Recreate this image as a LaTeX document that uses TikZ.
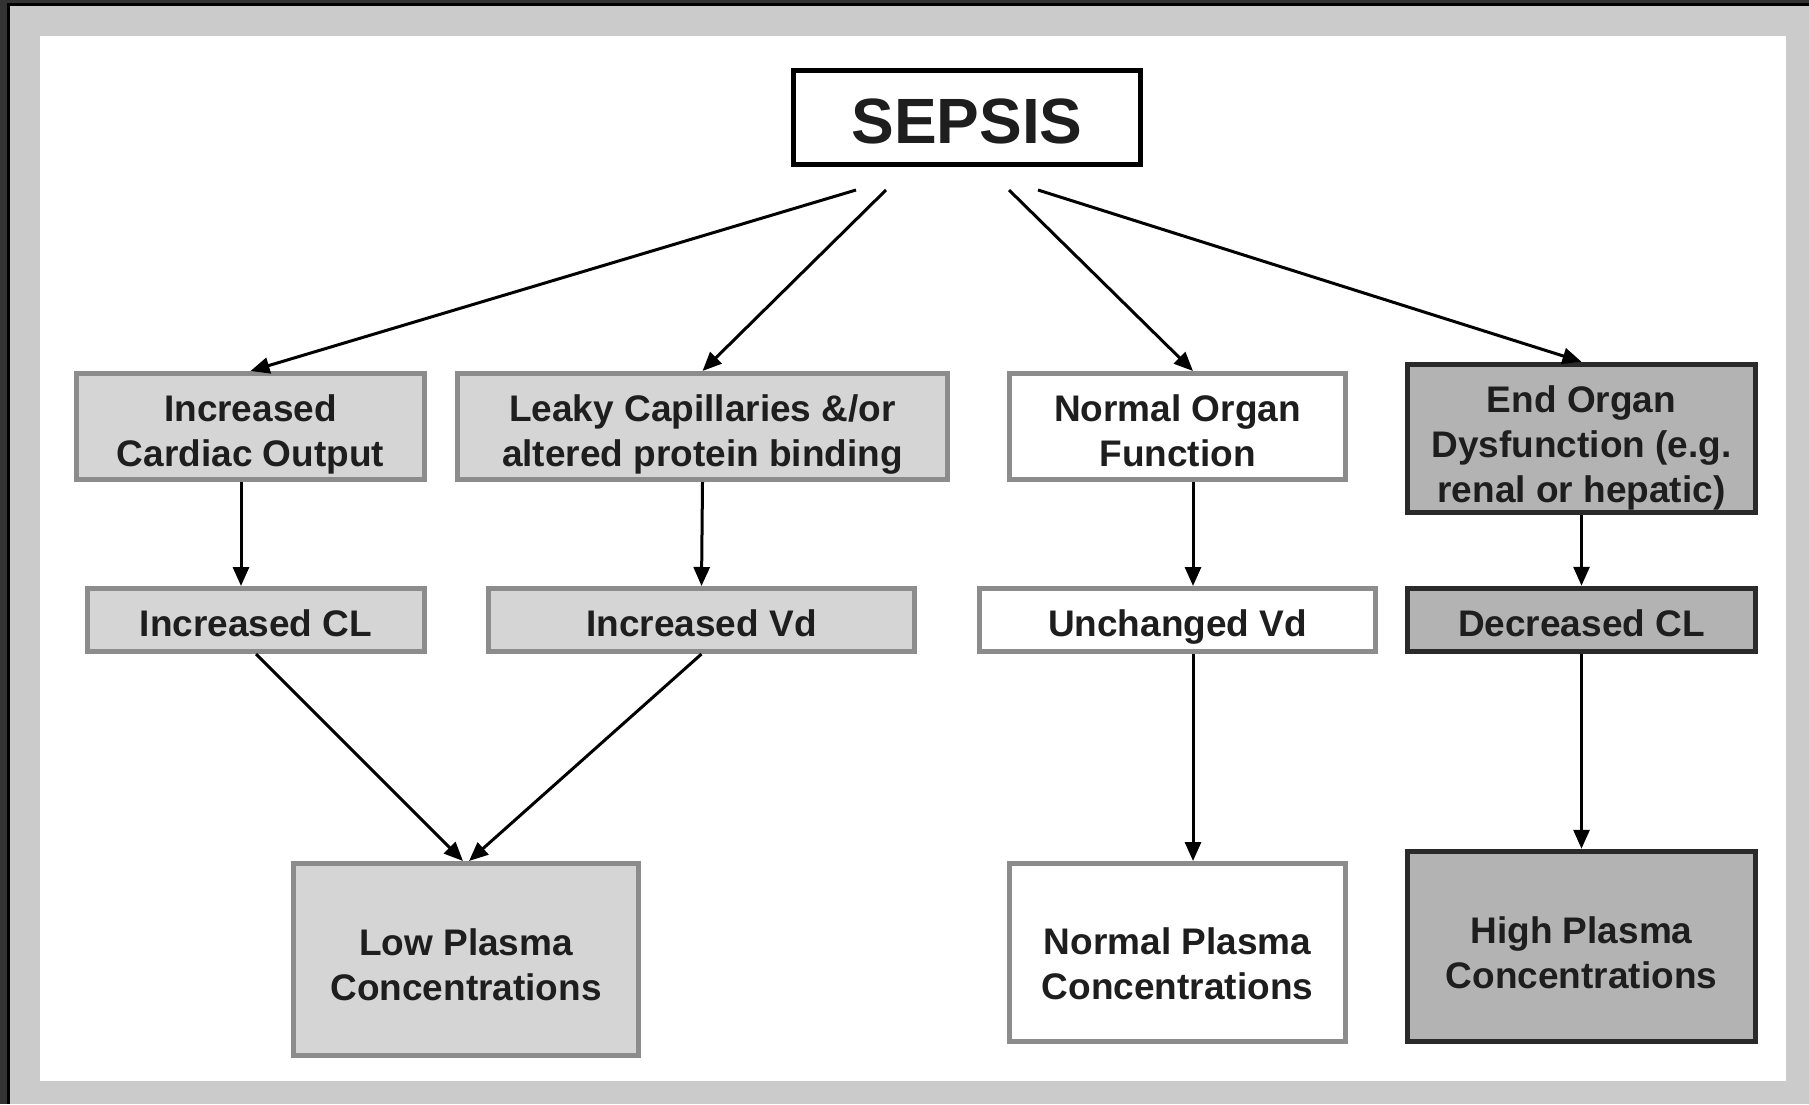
\documentclass[tikz,border=0pt]{standalone}
\usepackage{fontspec}
\setmainfont{Liberation Sans}
\usetikzlibrary{arrows.meta}
\definecolor{frameout}{HTML}{333333}
\definecolor{framebg}{HTML}{CBCBCB}
\definecolor{lightfill}{HTML}{D5D5D5}
\definecolor{lightdraw}{HTML}{8C8C8C}
\definecolor{darkfill}{HTML}{B3B3B3}
\definecolor{darkdraw}{HTML}{2A2A2A}
\definecolor{txt}{HTML}{1E1E1E}
\begin{document}
\begin{tikzpicture}[x=1pt,y=-1pt,
  every node/.style={font=\bfseries\fontsize{37}{45}\selectfont, text=txt, align=center, inner sep=0pt},
  bx/.style={draw, rectangle, line width=5pt},
  lightbox/.style={bx, draw=lightdraw, fill=lightfill},
  plainbox/.style={bx, draw=lightdraw, fill=white},
  darkbox/.style={bx, draw=darkdraw, fill=darkfill, line width=5.5pt},
  lbl/.style={yshift=-#1},
  arr/.style={line width=3pt, draw=black, -{Triangle[length=19pt,width=16pt]}}
]
% frame
\fill[framebg] (0,0) rectangle (1809,1104);
\fill[frameout] (0,0) rectangle (8,1104);
\fill[frameout] (0,0) rectangle (1809,3);
\fill[black] (7,3) rectangle (10,1104);
\fill[black] (7,3) rectangle (1809,6);
\fill[white] (40,36) rectangle (1786,1081);
\useasboundingbox (0,0) rectangle (1809,1104);

% boxes
\node[bx, draw=black, fill=white, line width=5.5pt, minimum width=347pt, minimum height=94pt] (sepsis) at (967,117.5) {};
\node[lightbox, minimum width=348pt, minimum height=106pt] (ico) at (250.5,426.5) {};
\node[lightbox, minimum width=490pt, minimum height=106pt] (leaky) at (702.5,426.5) {};
\node[plainbox, minimum width=336pt, minimum height=106pt] (nof) at (1177.5,426.5) {};
\node[darkbox, minimum width=348pt, minimum height=148pt] (eod) at (1581.5,438.5) {};
\node[lightbox, minimum width=337pt, minimum height=63pt] (icl) at (256,620) {};
\node[lightbox, minimum width=426pt, minimum height=63pt] (ivd) at (701.5,620) {};
\node[plainbox, minimum width=396pt, minimum height=63pt] (uvd) at (1177.5,620) {};
\node[darkbox, minimum width=348pt, minimum height=63pt] (dcl) at (1581.5,620) {};
\node[lightbox, minimum width=345pt, minimum height=192pt] (low) at (466,959.5) {};
\node[plainbox, minimum width=336pt, minimum height=178pt] (np) at (1177.5,952.5) {};
\node[darkbox, minimum width=348pt, minimum height=190pt] (high) at (1581.5,946.5) {};

% texts
\node[lbl=3.5pt, font=\bfseries\fontsize{64}{70}\selectfont] (sepsist) at (sepsis) {SEPSIS};
\node[lbl=8pt] (icot) at (ico) {Increased\\Cardiac Output};
\node[lbl=8pt] (leakyt) at (leaky) {Leaky Capillaries \&/or\\altered protein binding};
\node[lbl=4pt] (noft) at (nof) {Normal Organ\\Function};
\node[lbl=9pt] (eodt) at (eod) {End Organ\\Dysfunction (e.g.\\renal or hepatic)};
\node[lbl=3.5pt] (iclt) at (icl) {Increased CL};
\node[lbl=3.5pt] (ivdt) at (ivd) {Increased Vd};
\node[lbl=7pt] (uvdt) at (uvd) {Unchanged Vd};
\node[lbl=3.5pt] (dclt) at (dcl) {Decreased CL};
\node[lbl=5pt] (lowt) at (low) {Low Plasma\\Concentrations};
\node[lbl=11.5pt] (npt) at (np) {Normal Plasma\\Concentrations};
\node[lbl=6pt] (hight) at (high) {High Plasma\\Concentrations};

% connector helper coordinates
\coordinate (s1) at (856,190);
\coordinate (s2) at (886,190);
\coordinate (s3) at (1009,190);
\coordinate (s4) at (1038,190);
\coordinate (xa) at (241,0);
\coordinate (xn) at (1193,0);
\coordinate (xl1) at (463,0);
\coordinate (xl2) at (469,0);

% connectors
\draw[arr] (s1) -- (ico.north);
\draw[arr] (s2) -- (leaky.north);
\draw[arr] (s3) -- (nof.north -| xn);
\draw[arr] (s4) -- (eod.north);

\draw[arr] (ico.south -| xa) -- (icl.north -| xa);
\draw[arr] (leaky.south) -- (ivd.north);
\draw[arr] (nof.south -| xn) -- (uvd.north -| xn);
\draw[arr] (eod.south) -- (dcl.north);

\draw[arr] (icl.south) -- (low.north -| xl1);
\draw[arr] (ivd.south) -- (low.north -| xl2);
\draw[arr] (uvd.south -| xn) -- (np.north -| xn);
\draw[arr] (dcl.south) -- (high.north);
\end{tikzpicture}
\end{document}
